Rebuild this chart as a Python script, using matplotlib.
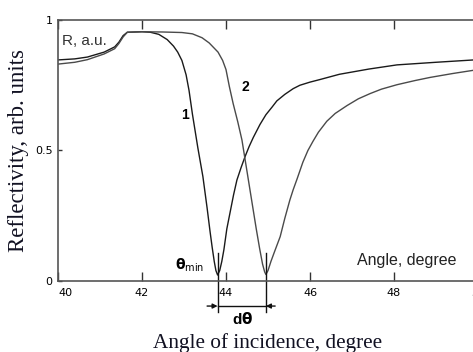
import matplotlib
matplotlib.use("agg")
import matplotlib.pyplot as plt
import numpy as np

# curve 1 (minimum near 43.8 deg)
angle_1 = [40.0, 40.4, 40.7, 41.1, 41.35, 41.45, 41.55, 41.65, 42.0, 42.2,
           42.4, 42.6, 42.75, 42.85, 42.95, 43.05, 43.12, 43.2, 43.27, 43.33,
           43.45, 43.55, 43.62, 43.67, 43.72, 43.76, 43.8, 43.85, 43.9, 43.95,
           44.02, 44.1, 44.18, 44.26, 44.36, 44.45, 44.55, 44.65, 44.81, 44.95,
           45.1, 45.21, 45.4, 45.6, 45.76, 46.0, 46.24, 46.7, 47.4, 48.07,
           49.0, 50.0]
refl_1 = [0.847, 0.851, 0.858, 0.877, 0.897, 0.915, 0.94, 0.953, 0.955, 0.953,
          0.945, 0.925, 0.9, 0.877, 0.845, 0.79, 0.73, 0.64, 0.57, 0.51,
          0.40, 0.28, 0.19, 0.13, 0.075, 0.04, 0.023, 0.04, 0.075, 0.12,
          0.20, 0.265, 0.33, 0.387, 0.435, 0.475, 0.515, 0.55, 0.60, 0.637,
          0.667, 0.69, 0.715, 0.737, 0.75, 0.762, 0.772, 0.792, 0.812, 0.828,
          0.838, 0.848]

# curve 2 (minimum near 45.0 deg)
angle_2 = [40.0, 40.4, 40.7, 41.1, 41.35, 41.45, 41.55, 41.65, 42.0, 42.5,
           42.95, 43.2, 43.43, 43.6, 43.81, 43.92, 44.0, 44.08, 44.17, 44.28,
           44.38, 44.45, 44.55, 44.64, 44.72, 44.8, 44.87, 44.92, 44.95, 45.0,
           45.07, 45.15, 45.29, 45.4, 45.52, 45.6, 45.69, 45.83, 45.95, 46.07,
           46.2, 46.4, 46.6, 46.88, 47.15, 47.43, 47.7, 48.07, 48.5, 48.86,
           49.4, 50.0]
refl_2 = [0.831, 0.838, 0.848, 0.87, 0.89, 0.91, 0.935, 0.953, 0.955, 0.954,
          0.952, 0.947, 0.932, 0.912, 0.877, 0.845, 0.81, 0.745, 0.68, 0.61,
          0.54, 0.47, 0.37, 0.28, 0.20, 0.125, 0.065, 0.035, 0.025, 0.04,
          0.075, 0.11, 0.17, 0.24, 0.31, 0.35, 0.39, 0.455, 0.50, 0.535,
          0.57, 0.612, 0.642, 0.672, 0.698, 0.718, 0.735, 0.752, 0.768, 0.78,
          0.795, 0.81]

x_ticks = [40, 42, 44, 46, 48, 50]
y_ticks = [0, 0.5, 1]
y_tick_labels = ["0", "0.5", "1"]
theta_min = [43.8, 44.95]

narrow = ["Liberation Sans Narrow", "DejaVu Sans"]
serif = ["Liberation Serif", "DejaVu Serif"]
sans = ["Liberation Sans", "DejaVu Sans"]

fig = plt.figure(figsize=(4.73, 3.52), dpi=100)
ax = fig.add_axes([0.1226, 0.2017, 0.888, 0.7415])

ax.plot(angle_1, refl_1, color="#1a1a1a", lw=1.0)
ax.plot(angle_2, refl_2, color="#4a4a4a", lw=1.0)

ax.set_xlim(40, 50)
ax.set_ylim(0, 1)
ax.set_xticks(x_ticks)
ax.set_xticklabels([str(t) for t in x_ticks], family=narrow, fontsize=8)
ax.set_yticks(y_ticks)
ax.set_yticklabels(y_tick_labels, family=narrow, fontsize=8)
ax.get_xticklabels()[0].set_horizontalalignment("left")

ax.tick_params(axis="x", direction="in", top=True, length=6.5, width=1,
               color="#333333", pad=5)
ax.tick_params(axis="y", direction="in", length=3, width=1,
               color="#333333", pad=4)

for side in ["left", "bottom", "top"]:
    ax.spines[side].set_color("#555555")
    ax.spines[side].set_linewidth(1.2)
ax.spines["right"].set_visible(False)

ax.set_xlabel("Angle of incidence, degree", family=serif, fontsize=15.3,
              color="#111122", labelpad=25)
ax.set_ylabel("Reflectivity, arb. units", family=serif, fontsize=16.5,
              color="#111122", labelpad=4)

ax.text(40.1, 0.92, "R, a.u.", family=sans, fontsize=11, color="#333333",
        va="center", ha="left")
ax.text(47.12, 0.08, "Angle, degree", family=sans, fontsize=11.5,
        color="#222222", va="center", ha="left")
ax.text(43.02, 0.636, "1", family=sans, fontsize=10, fontweight="bold",
        va="center", ha="center")
ax.text(44.45, 0.743, "2", family=sans, fontsize=10, fontweight="bold",
        va="center", ha="center")
ax.text(42.78, 0.06, r"$\mathbf{\theta}_{\rm min}$", fontsize=10,
        va="center", ha="left")

# d-theta marker
for xm in theta_min:
    ax.plot([xm, xm], [0.107, -0.118], color="#111111", lw=1.0,
            clip_on=False)
ax.plot(theta_min, [-0.096, -0.096], color="#111111", lw=1.0, clip_on=False)
ax.annotate("", xy=(theta_min[0], -0.096), xytext=(theta_min[0] - 0.25, -0.096),
            arrowprops=dict(arrowstyle="-|>", color="#111111", lw=1.0,
                            mutation_scale=7, shrinkA=0, shrinkB=0),
            annotation_clip=False)
ax.annotate("", xy=(theta_min[1], -0.096), xytext=(theta_min[1] + 0.22, -0.096),
            arrowprops=dict(arrowstyle="-|>", color="#111111", lw=1.0,
                            mutation_scale=7, shrinkA=0, shrinkB=0),
            annotation_clip=False)
ax.text(44.4, -0.146, r"d$\mathbf{\theta}$", family=sans, fontsize=11,
        fontweight="bold", va="center", ha="center")

fig.savefig("out.png", dpi=100)
